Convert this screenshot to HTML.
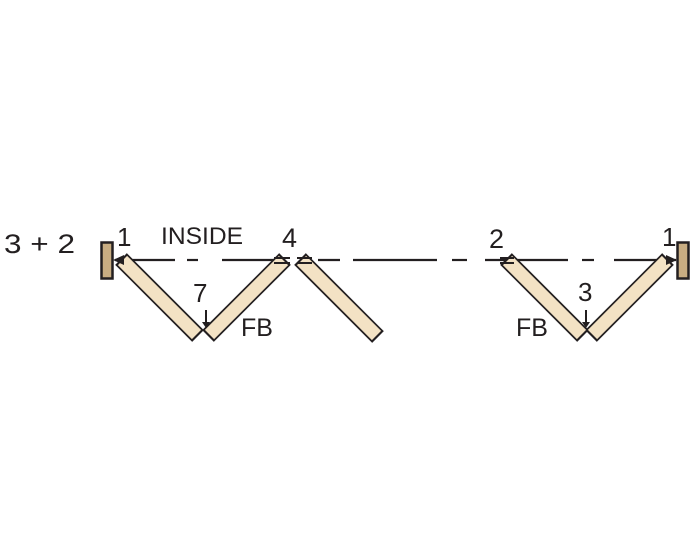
<!DOCTYPE html>
<html><head><style>
html,body{margin:0;padding:0;background:#fff;width:700px;height:560px;overflow:hidden}
svg{display:block}
text{font-family:"Liberation Sans",sans-serif;fill:#231f20}
</style></head><body>
<svg width="700" height="560" xmlns="http://www.w3.org/2000/svg">
<g stroke="#231f20" stroke-width="2.2">
<line x1="115" y1="260" x2="175" y2="260"/>
<line x1="187" y1="260" x2="198" y2="260"/>
<line x1="222" y1="260" x2="278" y2="260"/>
<line x1="318" y1="260" x2="340" y2="260"/>
<line x1="353" y1="260" x2="437" y2="260"/>
<line x1="452" y1="260" x2="467" y2="260"/>
<line x1="485" y1="260" x2="568" y2="260"/>
<line x1="582" y1="260" x2="594" y2="260"/>
<line x1="614" y1="260" x2="676" y2="260"/>
</g>
<g stroke-linecap="butt">
<g stroke="#231f20" stroke-width="16.5">
<line x1="121" y1="259" x2="198" y2="336"/>
<line x1="208" y1="336" x2="285" y2="259"/>
<line x1="300" y1="259" x2="378" y2="337"/>
<line x1="506" y1="259" x2="583" y2="336"/>
<line x1="591" y1="336" x2="668" y2="259"/>
</g>
<g stroke="#f3e2c4" stroke-width="13">
<line x1="122.5" y1="260.5" x2="196.5" y2="334.5"/>
<line x1="209.5" y1="334.5" x2="283.5" y2="260.5"/>
<line x1="301.5" y1="260.5" x2="376.5" y2="335.5"/>
<line x1="507.5" y1="260.5" x2="581.5" y2="334.5"/>
<line x1="592.5" y1="334.5" x2="666.5" y2="260.5"/>
</g>
</g>
<g stroke="#231f20" stroke-width="2">
<line x1="274" y1="258" x2="290" y2="258"/><line x1="274" y1="263" x2="290" y2="263"/>
<line x1="297" y1="258" x2="312" y2="258"/><line x1="297" y1="263" x2="312" y2="263"/>
<line x1="500" y1="258" x2="514" y2="258"/><line x1="500" y1="263" x2="514" y2="263"/>
<line x1="206" y1="310" x2="206" y2="325"/>
<line x1="586" y1="310" x2="586" y2="325"/>
</g>
<path d="M202 322 L210 322 L206 328 Z" fill="#231f20"/>
<path d="M582 322 L590 322 L586 328 Z" fill="#231f20"/>
<path d="M113 260 L124 255 L124 265 Z" fill="#231f20"/>
<path d="M677 260 L666 255 L666 265 Z" fill="#231f20"/>
<rect x="101.5" y="242.5" width="11" height="36" fill="#c9ad82" stroke="#231f20" stroke-width="2.5"/>
<rect x="677.5" y="242.5" width="11" height="36" fill="#c9ad82" stroke="#231f20" stroke-width="2.5"/>
<text x="4" y="253" font-size="27" textLength="71" lengthAdjust="spacingAndGlyphs">3 + 2</text>
<text x="117" y="246" font-size="26">1</text>
<text x="161" y="244" font-size="24" textLength="82" lengthAdjust="spacingAndGlyphs">INSIDE</text>
<text x="282" y="247" font-size="27">4</text>
<text x="193" y="302" font-size="26">7</text>
<text x="241" y="336" font-size="25">FB</text>
<text x="489" y="248" font-size="27">2</text>
<text x="578" y="301" font-size="26">3</text>
<text x="516" y="336" font-size="25">FB</text>
<text x="662" y="246" font-size="26">1</text>
</svg>
</body></html>
